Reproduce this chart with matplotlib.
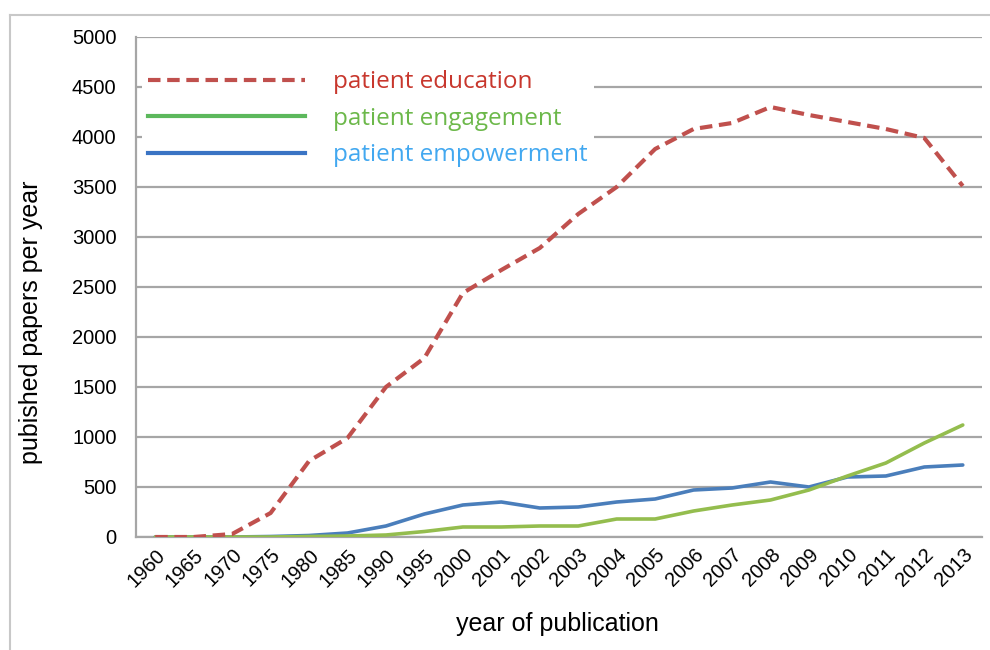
import matplotlib.pyplot as plt
from matplotlib.lines import Line2D

# values
years = ['1960', '1965', '1970', '1975', '1980', '1985', '1990', '1995', '2000',
         '2001', '2002', '2003', '2004', '2005', '2006', '2007', '2008', '2009',
         '2010', '2011', '2012', '2013']
education = [0, 0, 30, 240, 760, 990, 1500, 1790, 2440, 2670, 2890, 3230,
             3500, 3880, 4080, 4140, 4300, 4220, 4150, 4080, 3990, 3510]
engagement = [0, 0, 0, 0, 5, 10, 20, 55, 100, 100, 110, 110,
              180, 180, 260, 320, 370, 470, 610, 740, 940, 1120]
empowerment = [0, 0, 0, 5, 15, 40, 110, 230, 320, 350, 290, 300,
               350, 380, 470, 490, 550, 500, 600, 610, 700, 720]
labels = ['patient education', 'patient engagement', 'patient empowerment']

red = '#c0504d'
green = '#94bd4e'
blue = '#4a7ebb'

plt.rcParams['font.family'] = ['Liberation Sans', 'DejaVu Sans']

fig = plt.figure(figsize=(9.9, 6.5), dpi=100)
ax = fig.add_axes([136/990, 1-537/650, (982-136)/990, 500/650])

x = range(len(years))
ax.plot(x, empowerment, color=blue, lw=2.6, zorder=3, solid_capstyle='round')
ax.plot(x, engagement, color=green, lw=2.6, zorder=4, solid_capstyle='round')
ax.plot(x, education, color=red, lw=3, dashes=(3, 1.6), zorder=5)

ax.set_xlim(-0.5, len(years) - 0.5)
ax.set_ylim(0, 5000)
ax.set_yticks(range(0, 5001, 500))
ax.set_xticks(list(x))
ax.set_xticklabels(years, rotation=45, ha='right', rotation_mode='anchor')
ax.tick_params(axis='both', length=0, labelsize=14.5)
ax.tick_params(axis='y', pad=14)
ax.tick_params(axis='x', pad=6)
ax.grid(axis='y', color='#a6a6a6', lw=1.6)
ax.set_axisbelow(True)
for s in ['top', 'right']:
    ax.spines[s].set_visible(False)
for s in ['left', 'bottom']:
    ax.spines[s].set_color('#a6a6a6')
    ax.spines[s].set_linewidth(1.6)

ax.set_ylabel('pubished papers per year', fontsize=18)
ax.yaxis.set_label_coords(-0.11, 0.43)
ax.set_xlabel('year of publication', fontsize=18)
ax.xaxis.set_label_coords(0.4985, -0.15)

handles = [Line2D([], [], color=red, lw=3, dashes=(3, 1.6)),
           Line2D([], [], color='#5cb85c', lw=3),
           Line2D([], [], color='#3a74c4', lw=3)]
leg = ax.legend(handles, labels, loc='upper left', bbox_to_anchor=(0.0, 0.958),
                prop={'family': 'Open Sans', 'size': 17.5},
                labelcolor=['#c8372d', '#6cb84a', '#42a8f0'],
                handlelength=6.45, handletextpad=1.15, labelspacing=0.52,
                frameon=True, fancybox=False, borderpad=0.25, borderaxespad=0.25)
leg.get_frame().set_facecolor('white')
leg.get_frame().set_edgecolor('none')
leg.get_frame().set_alpha(1)

# light frame around the whole picture
fig.add_artist(Line2D([10/990, 10/990], [0, 1-15/650], color='#c8c8c8', lw=1.5))
fig.add_artist(Line2D([10/990, 1], [1-15/650, 1-15/650], color='#c8c8c8', lw=1.5))

fig.savefig('out.png', dpi=100)
